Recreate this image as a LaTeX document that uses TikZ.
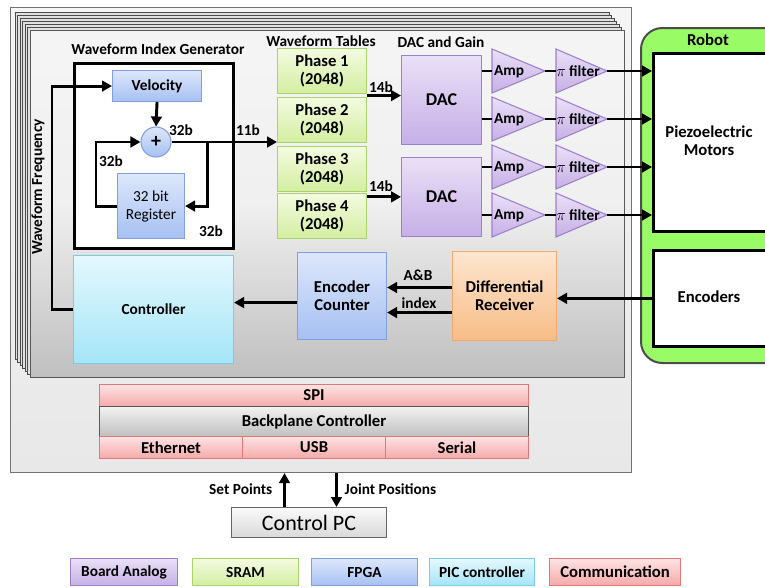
\documentclass[tikz,border=0pt]{standalone}
\usepackage{fontspec}
\setmainfont{Carlito}
\usetikzlibrary{arrows.meta,calc}

\definecolor{anaTop}{HTML}{EAE0F7}
\definecolor{anaBot}{HTML}{C6AFE7}
\definecolor{anaLine}{HTML}{9C80CA}
\definecolor{sramTop}{HTML}{F3FBE0}
\definecolor{sramBot}{HTML}{D3EEA0}
\definecolor{sramLine}{HTML}{A8D36C}
\definecolor{fpgaTop}{HTML}{DDE7FB}
\definecolor{fpgaBot}{HTML}{A6C0F2}
\definecolor{fpgaLine}{HTML}{7FA0DD}
\definecolor{picTop}{HTML}{E4F8FD}
\definecolor{picBot}{HTML}{A4E5F8}
\definecolor{picLine}{HTML}{7CCBE3}
\definecolor{comTop}{HTML}{FDE3E3}
\definecolor{comBot}{HTML}{F6A9A9}
\definecolor{comLine}{HTML}{E07878}
\definecolor{difTop}{HTML}{FDE6D0}
\definecolor{difBot}{HTML}{F8BC86}
\definecolor{difLine}{HTML}{F2A96B}
\definecolor{robotGreen}{HTML}{99FB66}

\tikzset{
  wh/.style 2 args={minimum width=#1*0.75pt,minimum height=#2*0.75pt,anchor=north west,inner sep=0pt},
  lbl/.style={font=\bfseries\fontsize{11.5}{13}\selectfont},
  big/.style={font=\bfseries\fontsize{12.5}{13.5}\selectfont},
  sig/.style={line width=2.2pt,-{Triangle[length=7.5pt,width=8pt]}},
  wire/.style={line width=2.2pt},
  ana/.style={draw=anaLine,top color=anaTop,bottom color=anaBot,line width=0.8pt},
  sram/.style={draw=sramLine,top color=sramTop,bottom color=sramBot,line width=0.8pt},
  fpga/.style={draw=fpgaLine,top color=fpgaTop,bottom color=fpgaBot,line width=0.8pt},
  pic/.style={draw=picLine,top color=picTop,bottom color=picBot,line width=0.8pt},
  com/.style={draw=comLine,top color=comTop,bottom color=comBot,line width=0.8pt},
  diff/.style={draw=difLine,top color=difTop,bottom color=difBot,line width=0.8pt},
  bp/.style={draw=black!65,top color=black!5,bottom color=black!25,line width=0.8pt},
  rack/.style={draw=black!55,line width=0.8pt,top color=black!4,bottom color=black!9},
  layer/.style={draw=black!70,fill=black!12,line width=0.6pt},
  card/.style={draw=black!65,line width=0.8pt,top color=black!4,bottom color=black!25,middle color=black!6},
  motor/.style={draw=black,line width=2pt,fill=white},
}

\begin{document}
\begin{tikzpicture}[x=0.75pt,y=0.75pt,yscale=-1,xscale=1]
\useasboundingbox (0,0) rectangle (765,587);

%Backplane and stacked boards
\node[rack,wh={621}{465}] (rack) at (10,7) {};
\foreach \k in {6,...,1}
  \draw[layer] (30-2.5*\k,30-3*\k) rectangle ++(594,347);
\node[card,wh={594}{347}] (card) at (30,30) {};

%Robot
\node[draw=black!70,line width=1.5pt,fill=robotGreen,rounded corners=16pt,wh={150}{335}] (robot) at (640,27) {};
\node[big] (robotT) at (708,40) {Robot};
\node[motor,wh={130}{178}] (piezo) at (652,52) {};
\node[big,align=center] (piezoT) at (709,141) {Piezoelectric\\Motors};
\node[motor,wh={130}{96}] (encs) at (652,249) {};
\node[big] (encsT) at (709,297) {Encoders};

%Waveform index generator
\node[lbl] (wigT) at (158,49) {Waveform Index Generator};
\node[draw,line width=2pt,fill=white,wh={159}{185}] (wig) at (73,62) {};
\node[fpga,lbl,wh={89}{31}] (vel) at (112,70) {Velocity};
\node[fpga,circle,minimum size=30*0.75pt,inner sep=0pt,font=\bfseries\fontsize{15}{15}\selectfont] (plus) at (156,142) {+};
\node[fpga,wh={67}{65},align=center,font=\fontsize{11.5}{13.5}\selectfont] (reg) at (117,173) {32 bit\\Register};
\node[lbl] (b32a) at (181,130) {32b};
\node[lbl] (b32b) at (111,161) {32b};
\node[lbl] (b32c) at (211,231) {32b};
\node[lbl] (b11) at (248,130) {11b};
\draw[sig] (vel.south) -- (plus.north);
\draw[sig] (reg.west) -- ++(-21,0) |- (plus.west);
\draw[sig] (plus.east) ++(36,0) |- (reg.east);

%Controller
\node[pic,lbl,wh={160}{108}] (ctrl) at (73,255) {Controller};
\node[lbl,rotate=90] (wfreq) at (38,187) {Waveform Frequency};
\draw[sig] (ctrl.west) -- ++(-21,0) |- (vel.west);

%Waveform tables
\node[lbl] (tabT) at (321,41) {Waveform Tables};
\foreach \i/\y in {1/48,2/97,3/146,4/193}
  \node[sram,big,wh={89}{45},align=center] (ph\i) at (277,\y) {Phase \i\\(2048)};
\draw[sig] (plus.east) -- (plus.east -| ph2.west);

%DAC and gain
\node[lbl] (dacT) at (441,42) {DAC and Gain};
\node[ana,font=\bfseries\fontsize{13.5}{14}\selectfont,wh={80}{89}] (dac1) at (401,55) {DAC};
\node[ana,font=\bfseries\fontsize{13.5}{14}\selectfont,wh={80}{79}] (dac2) at (401,157) {DAC};
\coordinate (t12) at ($(ph1.south east)!0.5!(ph2.north east)$);
\coordinate (t34) at ($(ph3.south east)!0.2!(ph4.east)$);
\draw[sig] (t12) -- (t12 -| dac1.west);
\draw[sig] (t34) -- (t34 -| dac2.west);
\node[lbl] (b14a) at (381,87) {14b};
\node[lbl] (b14b) at (381,186) {14b};

\foreach \i/\y in {1/71,2/119,3/167,4/215}{
  \draw[ana] (492,\y-22) -- (545,\y) -- (492,\y+22) -- cycle;
  \draw[ana] (556,\y-22) -- (607,\y) -- (556,\y+22) -- cycle;
  \coordinate (ain\i) at (492,\y);
  \coordinate (aout\i) at (545,\y);
  \coordinate (fin\i) at (556,\y);
  \coordinate (fout\i) at (607,\y);
  \node[lbl] (amp\i) at (509,\y+1) {Amp};
  \node[lbl] (pif\i) at (578,\y) {$\pi$ filter};
  \draw[wire] (aout\i) -- (fin\i);
  \draw[sig] (fout\i) -- (fout\i -| piezo.west);
}
\foreach \i/\d in {1/1,2/1,3/2,4/2}
  \draw[wire] (dac\d.east |- ain\i) -- (ain\i);

%Encoder path
\node[fpga,big,wh={89}{87},align=center] (enc) at (297,252) {Encoder\\Counter};
\node[diff,big,wh={104}{89},align=center] (dif) at (452,251) {Differential\\Receiver};
\draw[sig] ([yshift=4.9pt]enc.west) -- ([yshift=4.9pt]enc.west -| ctrl.east);
\draw[sig] ([yshift=-6.4pt]dif.west) -- ([yshift=-6.4pt]dif.west -| enc.east);
\draw[sig] ([yshift=12.4pt]dif.west) -- ([yshift=12.4pt]dif.west -| enc.east);
\node[lbl] (abT) at (418,275) {A\&B};
\node[lbl] (idxT) at (419,303) {index};
\draw[sig] (encs.west) -- (encs.west -| dif.east);

%Backplane controller
\node[com,big,wh={429}{22}] (spi) at (99,384) {SPI};
\node[bp,big,wh={429}{30}] (bpc) at (99,406) {Backplane Controller};
\node[com,big,wh={143}{22}] (eth) at (99,436) {Ethernet};
\node[com,big,wh={143}{22}] (usb) at (242,436) {USB};
\node[com,big,wh={143}{22}] (ser) at (385,436) {Serial};

%Control PC
\node[draw=black!60,line width=0.8pt,top color=black!2,bottom color=black!15,wh={155}{30},font=\fontsize{16.5}{18}\selectfont] (pc) at (231,507) {Control PC};
\coordinate (spB) at ([xshift=-18.4pt]pc.north);
\coordinate (jpB) at ([xshift=20.6pt]pc.north);
\draw[sig] (spB) -- (spB |- rack.south);
\draw[sig] (jpB |- rack.south) -- (jpB);
\node[lbl,anchor=east] (spT) at (277,489) {Set Points};
\node[lbl,anchor=west] (jpT) at (340,489) {Joint Positions};

%Legend
\node[ana,lbl,wh={107}{27}] (lgA) at (70,558) {Board Analog};
\node[sram,lbl,wh={106}{27}] (lgS) at (192,558) {SRAM};
\node[fpga,lbl,wh={106}{27}] (lgF) at (311,558) {FPGA};
\node[pic,lbl,wh={105}{27}] (lgP) at (429,558) {PIC controller};
\node[com,big,wh={131}{27}] (lgC) at (549,558) {Communication};

\end{tikzpicture}
\end{document}
